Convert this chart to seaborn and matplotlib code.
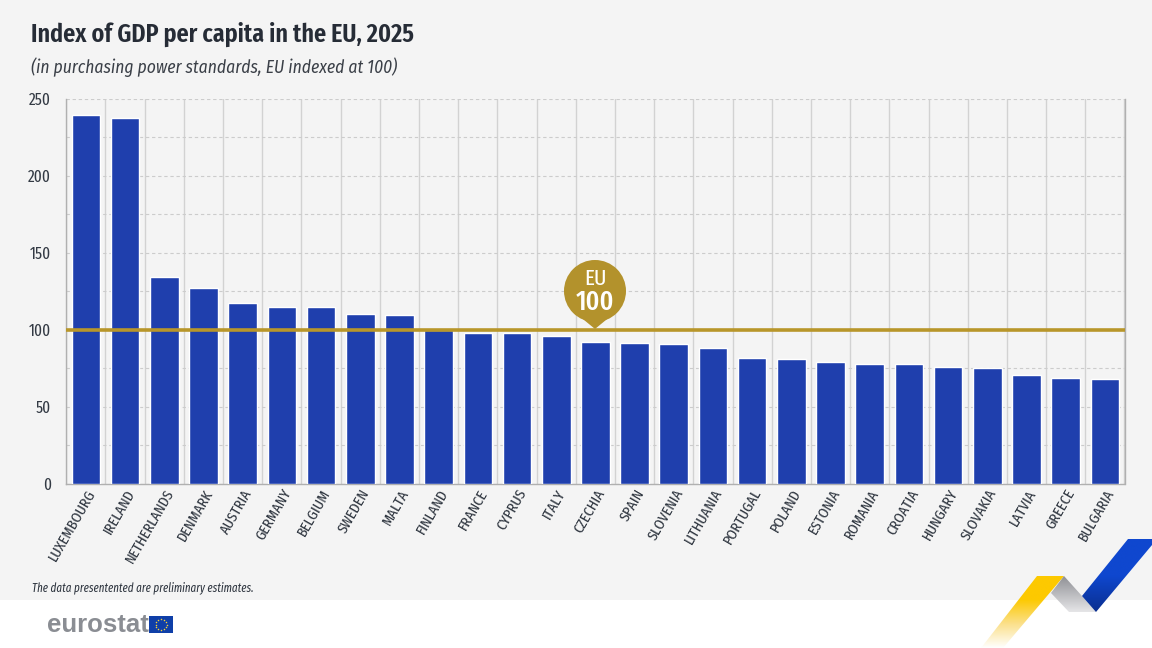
import numpy as np
import pandas as pd
import matplotlib
matplotlib.use("Agg")
import matplotlib.pyplot as plt
from matplotlib.patches import Polygon, Circle, Rectangle
from matplotlib.colors import LinearSegmentedColormap
from matplotlib import font_manager as fm
import seaborn as sns

countries = ["LUXEMBOURG", "IRELAND", "NETHERLANDS", "DENMARK", "AUSTRIA", "GERMANY", "BELGIUM",
             "SWEDEN", "MALTA", "FINLAND", "FRANCE", "CYPRUS", "ITALY", "CZECHIA", "SPAIN",
             "SLOVENIA", "LITHUANIA", "PORTUGAL", "POLAND", "ESTONIA", "ROMANIA", "CROATIA",
             "HUNGARY", "SLOVAKIA", "LATVIA", "GREECE", "BULGARIA"]
index_values = [239, 237.5, 134, 127, 117.5, 115, 114.5, 110, 109.5, 100, 98, 98, 96, 92,
                91.5, 90.5, 88, 81.5, 81, 79, 78, 78, 76, 75, 71, 68.5, 68]
eu_level = 100
y_ticks = [0, 50, 100, 150, 200, 250]

W, H = 1152, 648
installed = {f.name for f in fm.fontManager.ttflist}
def pick(*names):
    for n in names:
        if n in installed:
            return [n, "DejaVu Sans"]
    return ["DejaVu Sans"]
XC = pick("Fira Sans Extra Condensed", "Fira Sans Condensed", "Roboto")
CN = pick("Fira Sans Condensed", "Roboto")
sns.set_theme(style="white")
plt.rcParams["font.family"] = XC

fig = plt.figure(figsize=(W / 100, H / 100), dpi=100, facecolor="white")

# page background (pixel coordinates)
bg = fig.add_axes([0, 0, 1, 1], zorder=0)
bg.set_xlim(0, W); bg.set_ylim(H, 0); bg.axis("off")
bg.add_patch(Rectangle((0, 0), W, 600, fc="#f4f4f4", ec="none"))

# chart
ax = fig.add_axes([66.3 / W, 1 - 484 / H, (1124.5 - 66.3) / W, (484 - 98.5) / H], zorder=1)
ax.patch.set_alpha(0)
df = pd.DataFrame({"country": countries, "index": index_values})
sns.barplot(data=df, x="country", y="index", color="#1f3fad", saturation=1, width=0.73, ax=ax, zorder=3)
ax.set_xlim(-0.5, len(countries) - 0.5)
ax.set_ylim(0, 250)
ax.set_xlabel(""); ax.set_ylabel("")
ax.set_yticks(y_ticks)
ax.set_yticks(np.arange(25, 250, 50), minor=True)
ax.tick_params(axis="y", which="both", length=0, pad=11, labelsize=12, labelcolor="#333a44")
ax.set_xticks(range(len(countries)))
ax.set_xticklabels(countries, rotation=60, ha="right", va="top", rotation_mode="anchor",
                   fontsize=11.2, color="#2f3640")
ax.tick_params(axis="x", length=0, pad=2)
ax.set_xticks(np.arange(-0.5, len(countries)), minor=True)
ax.tick_params(axis="x", which="minor", length=0)
ax.grid(False)
ax.grid(axis="x", which="minor", color="#d2d2d2", lw=1, zorder=1)
ax.grid(axis="y", which="both", color="#cccccc", lw=0.8, ls=(0, (3, 2.5)), zorder=1)
ax.set_axisbelow(True)
ax.spines["top"].set_visible(False)
for s in ("left", "bottom", "right"):
    ax.spines[s].set_color("#b0b0b0")
    ax.spines[s].set_linewidth(1)
ax.axhline(eu_level, color="#b8962a", lw=2.6, zorder=5)

# overlay
ov = fig.add_axes([0, 0, 1, 1], zorder=2)
ov.set_xlim(0, W); ov.set_ylim(H, 0); ov.axis("off"); ov.patch.set_alpha(0)

# EU 100 pin
gold = "#b3922c"
ov.add_patch(Circle((595, 291), 31, fc=gold, ec="none"))
ov.add_patch(Polygon([[578, 315], [612, 315], [595, 329]], fc=gold, ec="none"))
ov.text(595, 279, "EU", color="white", fontsize=16.5, ha="center", va="center")
ov.text(595, 302, "100", color="white", fontsize=20, ha="center", va="center", fontweight="medium")

# titles
fig.text(31 / W, 1 - 34 / H, "Index of GDP per capita in the EU, 2025", fontsize=18.8, fontweight="semibold",
         color="#262c36", va="center", ha="left")
fig.text(31 / W, 1 - 67 / H, "(in purchasing power standards, EU indexed at 100)", fontsize=12.6,
         style="italic", color="#3a3f47", va="center", ha="left", family=CN)
fig.text(32 / W, 1 - 588 / H, "The data presentented are preliminary estimates.", fontsize=8.6,
         style="italic", color="#2f3640", va="center", ha="left")

# logo
ov.text(47, 625, "eurostat", fontsize=18.5, fontweight="bold", color="#8a8d93", va="center", ha="left",
        family=["Liberation Sans", "DejaVu Sans"])
ov.add_patch(Rectangle((149, 616), 24, 17, fc="#0f3fa8", ec="none"))
for a in np.deg2rad(np.arange(0, 360, 30)):
    ov.plot(161 + 5.5 * np.cos(a), 624.5 + 5.5 * np.sin(a), "o", ms=1.1, color="#f2cf3a", mew=0)

# ribbons with gradients
def ribbon(pts, colors, extent):
    cmap = LinearSegmentedColormap.from_list("r", colors)
    grad = np.linspace(0, 1, 256).reshape(-1, 1)
    im = ov.imshow(grad, cmap=cmap, extent=extent, aspect="auto", zorder=3, interpolation="bilinear")
    poly = Polygon(pts, closed=True, transform=ov.transData, fc="none", ec="none")
    ov.add_patch(poly)
    im.set_clip_path(poly)

ribbon([[1064, 576], [1037, 576], [981, 648], [1003, 648]],
       ["#fdc900", "#fdc900", "#fbe08a", "#ffffff"], (975, 1070, 648, 575))
ribbon([[1064, 576], [1051, 593], [1069, 612], [1096, 612], [1082, 596]],
       ["#8f9095", "#e6e6e8"], (1050, 1097, 612, 576))
ribbon([[1128, 539], [1152, 539], [1152, 545], [1096, 612], [1082, 596]],
       ["#0f47cf", "#0f47cf", "#0a2f8f"], (1082, 1152, 612, 539))
ov.set_xlim(0, W); ov.set_ylim(H, 0)

fig.savefig("out.png", dpi=100, facecolor="white")
